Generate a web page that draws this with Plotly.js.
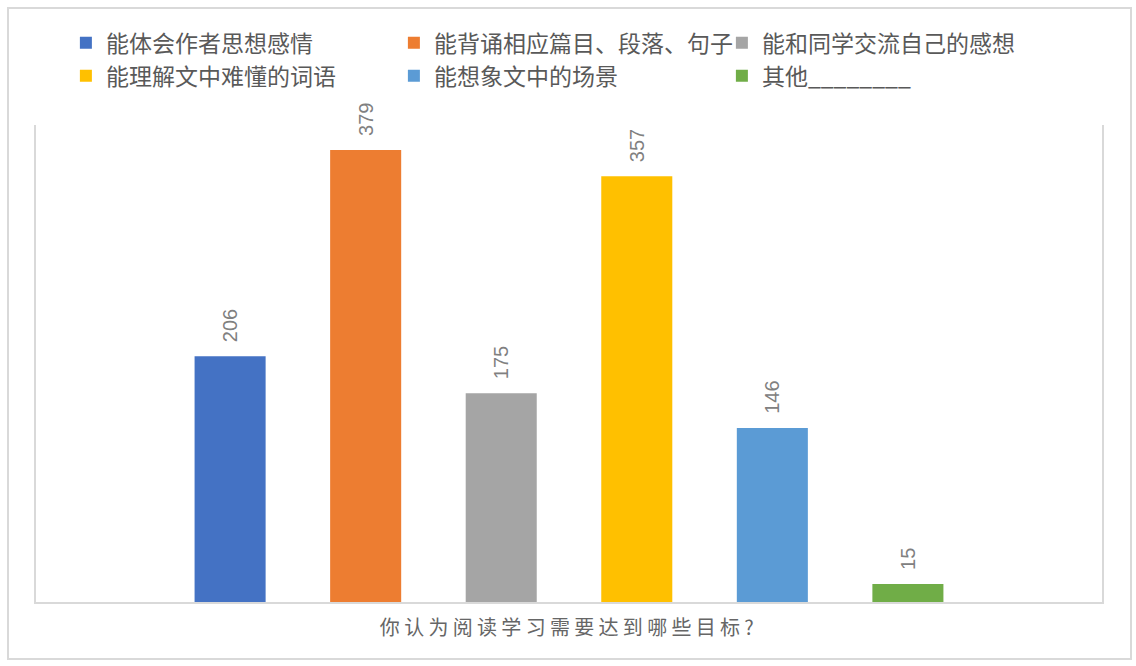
<!DOCTYPE html>
<html>
<head>
<meta charset="utf-8">
<script src="https://cdn.plot.ly/plotly-3.0.1.min.js"></script>
<style>
  html, body { margin: 0; padding: 0; background: #fff; }
  #chart { width: 1136px; height: 666px; }
  #frame { position: absolute; left: 7px; top: 7px; width: 1121px; height: 649px;
           border: 2px solid #d9d9d9; pointer-events: none; }
  #chart .xtitle { letter-spacing: 4.3px; }
</style>
</head>
<body>
<div id="chart"></div>
<div id="frame"></div>
<script>
const seriesNames = ['能体会作者思想感情', '能背诵相应篇目、段落、句子', '能和同学交流自己的感想',
                     '能理解文中难懂的词语', '能想象文中的场景', '其他________'];
const seriesValues = [206, 379, 175, 357, 146, 15];
const seriesColors = ['#4472c4', '#ed7d31', '#a5a5a5', '#ffc000', '#5b9bd5', '#70ad47'];
const category = ['目标'];
const axisTitle = '你认为阅读学习需要达到哪些目标?';

const traces = seriesNames.map((name, i) => ({
  type: 'bar',
  name: name,
  x: category,
  y: [seriesValues[i]],
  marker: { color: seriesColors[i] },
  texttemplate: '\u00a0\u00a0%{y}',
  textposition: 'outside',
  textangle: -90,
  constraintext: 'none',
  cliponaxis: false,
  textfont: { family: 'Liberation Sans, Arial, sans-serif', size: 20, color: '#808080' },
  hoverinfo: 'name+y'
}));

const layout = {
  width: 1136, height: 666,
  margin: { l: 36, r: 34, t: 125, b: 64 },
  paper_bgcolor: '#ffffff', plot_bgcolor: '#ffffff',
  barmode: 'group',
  bargap: 0.237,
  bargroupgap: 0.476,
  showlegend: true,
  legend: {
    orientation: 'h',
    xref: 'container', yref: 'container',
    x: 0.058, y: 0.968, xanchor: 'left', yanchor: 'top',
    entrywidth: 283, entrywidthmode: 'pixels',
    bgcolor: 'rgba(0,0,0,0)',
    font: { family: 'Noto Sans CJK SC, sans-serif', size: 23, color: '#595959' },
    traceorder: 'normal'
  },
  xaxis: {
    type: 'category',
    showticklabels: false, ticks: '',
    showline: true, linecolor: '#d9d9d9', linewidth: 2,
    showgrid: false, zeroline: false,
    title: { text: axisTitle, standoff: 18,
             font: { family: 'Noto Sans CJK SC, sans-serif', size: 20, color: '#666666' } }
  },
  yaxis: {
    range: [0, 400],
    showticklabels: false, ticks: '',
    showgrid: false, zeroline: false,
    showline: true, mirror: true, linecolor: '#d9d9d9', linewidth: 2
  }
};

Plotly.newPlot('chart', traces, layout, { displayModeBar: false, staticPlot: true });
</script>
</body>
</html>
